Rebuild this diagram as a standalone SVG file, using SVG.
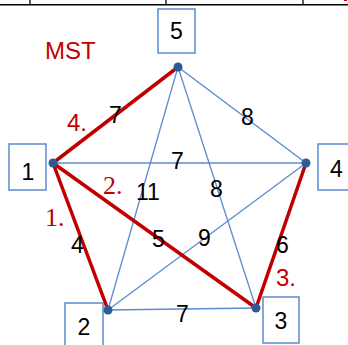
<svg xmlns="http://www.w3.org/2000/svg" width="348" height="345" viewBox="0 0 348 345">
<style>
.box{fill:#fff;stroke:#5B8BD0;stroke-width:1.5}
.e{stroke:#5B8BD0;stroke-width:1.3;fill:none}
.m{stroke:#C00000;stroke-width:3.5;fill:none;stroke-linecap:round}
.pt{fill:#2F5A94}
.t{font-family:"Liberation Sans",Arial,sans-serif;font-size:23px;fill:#000}
.r{font-family:"Liberation Sans",Arial,sans-serif;font-size:24px;fill:#C00000}
.rs{font-family:"Liberation Serif","Times New Roman",serif;font-size:26px;fill:#C00000}
</style>
<g id="table">
<line x1="0" y1="4.8" x2="348" y2="4.8" stroke="#000" stroke-width="1.6"/>
<line x1="30" y1="0" x2="30" y2="5" stroke="#000" stroke-width="1.3"/>
<line x1="166" y1="0" x2="166" y2="5" stroke="#000" stroke-width="1.3"/>
<line x1="303" y1="0" x2="303" y2="5" stroke="#000" stroke-width="1.3"/>
<line x1="344" y1="0.5" x2="347" y2="0.5" stroke="#C00000" stroke-width="1"/>
</g>
<g id="connectors">
<line class="e" x1="178" y1="67" x2="306" y2="163"/>
<line class="e" x1="178" y1="67" x2="108" y2="310"/>
<line class="e" x1="178" y1="67" x2="256" y2="308"/>
<line class="e" x1="53" y1="163" x2="306" y2="163"/>
<line class="e" x1="306" y1="163" x2="108" y2="310"/>
<line class="e" x1="108" y1="310" x2="256" y2="308"/>
<line class="m" x1="178" y1="67" x2="53" y2="163"/>
<line class="m" x1="53" y1="163" x2="108" y2="310"/>
<line class="m" x1="53" y1="163" x2="256" y2="308"/>
<line class="m" x1="256" y1="308" x2="306" y2="163"/>
<text class="t" x="109" y="123">7</text>
<text class="t" x="241" y="125">8</text>
<text class="t" x="171" y="169">7</text>
<text class="t" x="136" y="200">11</text>
<text class="t" x="210" y="197">8</text>
<text class="t" x="71" y="253">4</text>
<text class="t" x="152" y="247">5</text>
<text class="t" x="198" y="246">9</text>
<text class="t" x="276" y="253">6</text>
<text class="t" x="176" y="322">7</text>
<text class="r" x="67" y="131">4.</text>
<text class="rs" x="103" y="194">2.</text>
<text class="rs" x="45" y="226">1.</text>
<text class="r" x="276" y="286">3.</text>
</g>
<text class="r" x="45" y="59">MST</text>
<g id="n5"><rect class="box" x="158" y="9" width="37" height="44"/><text class="t" x="176.5" y="39" text-anchor="middle">5</text><circle class="pt" cx="178" cy="67" r="4.5"/></g>
<g id="n1"><rect class="box" x="9" y="144" width="37" height="46"/><text class="t" x="28" y="180" text-anchor="middle">1</text><circle class="pt" cx="53" cy="163" r="4.5"/></g>
<g id="n4"><rect class="box" x="318" y="144" width="37" height="46"/><text class="t" x="336.5" y="177" text-anchor="middle">4</text><circle class="pt" cx="306" cy="163" r="4.5"/></g>
<g id="n2"><rect class="box" x="65" y="303" width="38" height="46"/><text class="t" x="84" y="335" text-anchor="middle">2</text><circle class="pt" cx="108" cy="310" r="4.5"/></g>
<g id="n3"><rect class="box" x="263" y="297" width="36" height="46"/><text class="t" x="281" y="329" text-anchor="middle">3</text><circle class="pt" cx="256" cy="308" r="4.5"/></g>
</svg>
